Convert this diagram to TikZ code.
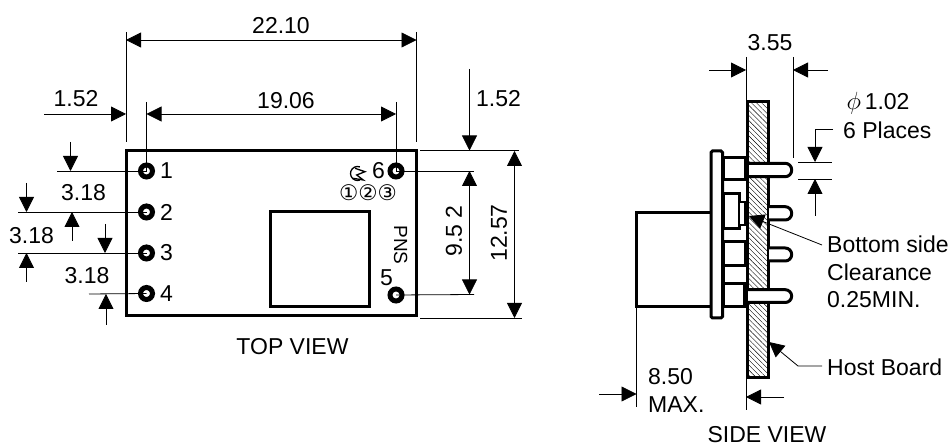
\documentclass[tikz,border=0pt]{standalone}
\usepackage{amsmath}
\usepackage{fontspec}
\setmainfont{Liberation Sans}
\newfontfamily\circfont{DejaVu Sans}
\usetikzlibrary{arrows.meta,patterns.meta,positioning}

\begin{document}
\begin{tikzpicture}[x=1pt,y=-1pt,>={Triangle[length=15pt,width=15pt]},
                        line join=miter]
      \tikzstyle{every node}=[inner sep=0pt,font=\fontsize{23}{26}\selectfont]
      \tikzstyle{part}=[draw,line width=3pt,fill=white]
      \tikzstyle{padring}=[draw,circle,line width=5pt,minimum size=12pt,fill=white]
      \tikzstyle{dimline}=[line width=.8pt]
      \tikzstyle{dimarrow}=[->,line width=.8pt]
      \tikzstyle{dimboth}=[<->,line width=.8pt]

      \useasboundingbox (0,0) rectangle (948,446);

      % top view
      \draw[part] (126,151) rectangle (416.5,315.5);
      \draw[part] (270,212) rectangle (369,306.5);

      \node[padring] (P1) at (146.5,171) {};
      \node[padring] (P2) at (146.5,212) {};
      \node[padring] (P3) at (146.5,253) {};
      \node[padring] (P4) at (146.5,293.5) {};
      \node[padring] (P5) at (396,295) {};
      \node[padring] (P6) at (396,171) {};

      \node (N1) [right=5pt of P1] {1};
      \node (N2) [right=5pt of P2] {2};
      \node (N3) [right=5pt of P3] {3};
      \node (N4) [right=5pt of P4] {4};
      \node (N5) at (386.5,278) {5};
      \node (N6) [left=2.5pt of P6] {6};

      \node (MARKS) at (368,193) {\circfont\fontsize{21.5}{24}\selectfont ①②③};
      \node (PNS) at (400.7,245) [rotate=-90,font=\fontsize{19}{20}\selectfont] {PNS};
      \draw[line width=1.3pt] (359.9,166.9) arc (-70:-290:7);
      \draw[line width=1.3pt] (355,168.3) -- (365,171.7) -- (356.7,175) -- (363.3,180) -- (353.3,178.3);

      \node (TOPVIEW) at (292.5,347) {TOP VIEW};

      % width dimensions
      \coordinate (XaT) at (126,32);
      \coordinate (XaB) at (126,142);
      \coordinate (XbT) at (416.5,32);
      \coordinate (XbB) at (416.5,142);
      \coordinate (WL) at (126,40);
      \coordinate (WR) at (416.5,40);
      \coordinate (P1T) at (146.5,102);
      \coordinate (P6T) at (396,102);
      \coordinate (PL) at (146.5,114);
      \coordinate (PR) at (396,114);
      \coordinate (EL) at (44,114);
      \coordinate (ER) at (126,114);

      \draw[dimline] (XaT) -- (XaB);
      \draw[dimline] (XbT) -- (XbB);
      \draw[dimline] (P1T) -- (P1.center);
      \draw[dimline] (P6T) -- (P6.center);
      \draw[dimboth] (WL) -- (WR);
      \draw[dimboth] (PL) -- (PR);
      \draw[dimarrow] (EL) -- (ER);
      \node (WIDTH) at (281,26) {22.10};
      \node (PITCHW) at (286,100.5) {19.06};
      \node (PITCHE) at (76,99) {1.52};

      % pin pitch dimensions
      \coordinate (Y1) at (57,171);
      \coordinate (Y2) at (18,212);
      \coordinate (Y3) at (18,253);
      \coordinate (Y4) at (89,294);
      \draw[dimline] (Y1) -- (P1.center);
      \draw[dimline] (Y2) -- (P2.center);
      \draw[dimline] (Y3) -- (P3.center);
      \draw[dimline] (Y4) -- (P4.center);

      \coordinate (A1s) at (70.5,142);
      \coordinate (A1e) at (70.5,171);
      \coordinate (A2s) at (26.5,183);
      \coordinate (A2e) at (26.5,212);
      \coordinate (A3s) at (72,241);
      \coordinate (A3e) at (72,212);
      \coordinate (A4s) at (105,224);
      \coordinate (A4e) at (105,253);
      \coordinate (A5s) at (26.5,282);
      \coordinate (A5e) at (26.5,253);
      \coordinate (A6s) at (106,325);
      \coordinate (A6e) at (106,294);
      \draw[dimarrow] (A1s) -- (A1e);
      \draw[dimarrow] (A2s) -- (A2e);
      \draw[dimarrow] (A3s) -- (A3e);
      \draw[dimarrow] (A4s) -- (A4e);
      \draw[dimarrow] (A5s) -- (A5e);
      \draw[dimarrow] (A6s) -- (A6e);

      \node (PITCHA) at (83.5,192.5) {3.18};
      \node (PITCHB) at (31.5,236) {3.18};
      \node (PITCHC) at (87,276) {3.18};

      % height dimensions
      \coordinate (TL) at (420,150.5);
      \coordinate (TR) at (519,150.5);
      \coordinate (BL) at (420,318);
      \coordinate (BR) at (522,318);
      \coordinate (P6R) at (474,171);
      \coordinate (P5R) at (474,294.5);
      \coordinate (TopS) at (469.5,69);
      \coordinate (TopE) at (469.5,150.5);
      \coordinate (PinT) at (469.5,171);
      \coordinate (PinB) at (469.5,294.5);
      \coordinate (HtT) at (514.5,151);
      \coordinate (HtB) at (514.5,318);

      \draw[dimline] (TL) -- (TR);
      \draw[dimline] (BL) -- (BR);
      \draw[dimline] (P6.center) -- (P6R);
      \draw[dimline] (P5.center) -- (P5R);
      \draw[dimarrow] (TopS) -- (TopE);
      \draw[dimboth] (PinT) -- (PinB);
      \draw[dimboth] (HtT) -- (HtB);
      \node (EDGE) at (498.5,99) {1.52};
      \node (PINSPAN) at (454,231) [rotate=90] {9.5 2};
      \node (HEIGHT) at (499,233) [rotate=90] {12.57};

      % side view
      \draw[draw=none,pattern={Lines[angle=-45,distance=3.6pt,line width=.4pt]}]
            (747.4,102) rectangle (768.3,377.5);
      \draw[line width=3pt] (747.4,377.5) -- (747.4,102) -- (768.3,102) -- (768.3,377.5) -- cycle;

      \draw[part] (636.7,212.4) rectangle (711,306.7);
      \draw[part] (723,158) rectangle (745,180);
      \draw[part] (723,193.5) rectangle (739,228.5);
      \draw[part,line width=2pt] (739,202) rectangle (745,225);
      \draw[part] (723,241.7) rectangle (745,265.8);
      \draw[part] (723,265.8) rectangle (747,283.3);
      \draw[part] (723,283.3) rectangle (744.5,306.5);
      \draw[part,rounded corners=1.5pt] (711,318) rectangle (722.5,151);

      \draw[part,rounded corners=6.5pt] (769,206.7) -- (791.7,206.7) -- (791.7,220) -- (769,220);
      \draw[part,rounded corners=6.5pt] (769,248) -- (791.7,248) -- (791.7,261) -- (769,261);
      \draw[part,rounded corners=6.5pt] (747.4,163.3) -- (791.7,163.3) -- (791.7,176.7) -- (747.4,176.7);
      \draw[line width=3pt] (747.4,162) -- (747.4,178);
      \draw[part,rounded corners=6.5pt] (746,289.7) -- (791.7,289.7) -- (791.7,302.5) -- (746,302.5);
      \draw[line width=3pt] (746,288) -- (746,304);

      \coordinate (Ca) at (746,57);
      \coordinate (Cb) at (746,101);
      \coordinate (Cc) at (793,57);
      \coordinate (Cd) at (793,158);
      \coordinate (Ce) at (709,70);
      \coordinate (Cf) at (746,70);
      \coordinate (Cg) at (828,70);
      \coordinate (Ch) at (793,70);
      \draw[dimline] (Ca) -- (Cb);
      \draw[dimline] (Cc) -- (Cd);
      \draw[dimarrow] (Ce) -- (Cf);
      \draw[dimarrow] (Cg) -- (Ch);
      \node (DEPTH) at (770,43) {3.55};

      \coordinate (Da) at (798,162);
      \coordinate (Db) at (832,162);
      \coordinate (Dc) at (798,179);
      \coordinate (Dd) at (832,179);
      \coordinate (De) at (833,129);
      \coordinate (Df) at (815,129);
      \coordinate (Dg) at (815,162);
      \coordinate (Dh) at (815,216);
      \coordinate (Di) at (815,179);
      \draw[dimline] (Da) -- (Db);
      \draw[dimline] (Dc) -- (Dd);
      \draw[dimarrow] (De) -- (Df) -- (Dg);
      \draw[dimarrow] (Dh) -- (Di);
      \node (DIA) at (878,103) {$\phi$\,1.02};
      \node (PLACES) at (843,130) [anchor=west] {6 Places};

      \node (BOTTOM) at (827,244) [anchor=west] {Bottom side};
      \node (CLEAR) at (827,272) [anchor=west] {Clearance};
      \node (MINVAL) at (827,300) [anchor=west] {0.25MIN.};
      \node (HOST) at (827,367) [anchor=west] {Host Board};

      \coordinate (La) at (822,245);
      \coordinate (Lb) at (749,216);
      \coordinate (Lc) at (822,366);
      \coordinate (Ld) at (798,366);
      \coordinate (Le) at (769,342);
      \draw[dimarrow] (La) -- (Lb);
      \draw[dimarrow] (Lc) -- (Ld) -- (Le);

      \coordinate (Ma) at (636.5,306);
      \coordinate (Mb) at (636.5,407);
      \coordinate (Mc) at (746,378);
      \coordinate (Md) at (746,410);
      \coordinate (Me) at (599,394);
      \coordinate (Mf) at (636.5,394);
      \coordinate (Mg) at (784,397);
      \coordinate (Mh) at (746,397);
      \draw[dimline] (Ma) -- (Mb);
      \draw[dimline] (Mc) -- (Md);
      \draw[dimarrow] (Me) -- (Mf);
      \draw[dimarrow] (Mg) -- (Mh);
      \node (HEAT) at (648,377) [anchor=west] {8.50};
      \node (MAXV) at (648,405) [anchor=west] {MAX.};

      \node (SIDEVIEW) at (767,434.5) {SIDE VIEW};
    \end{tikzpicture}
\end{document}
